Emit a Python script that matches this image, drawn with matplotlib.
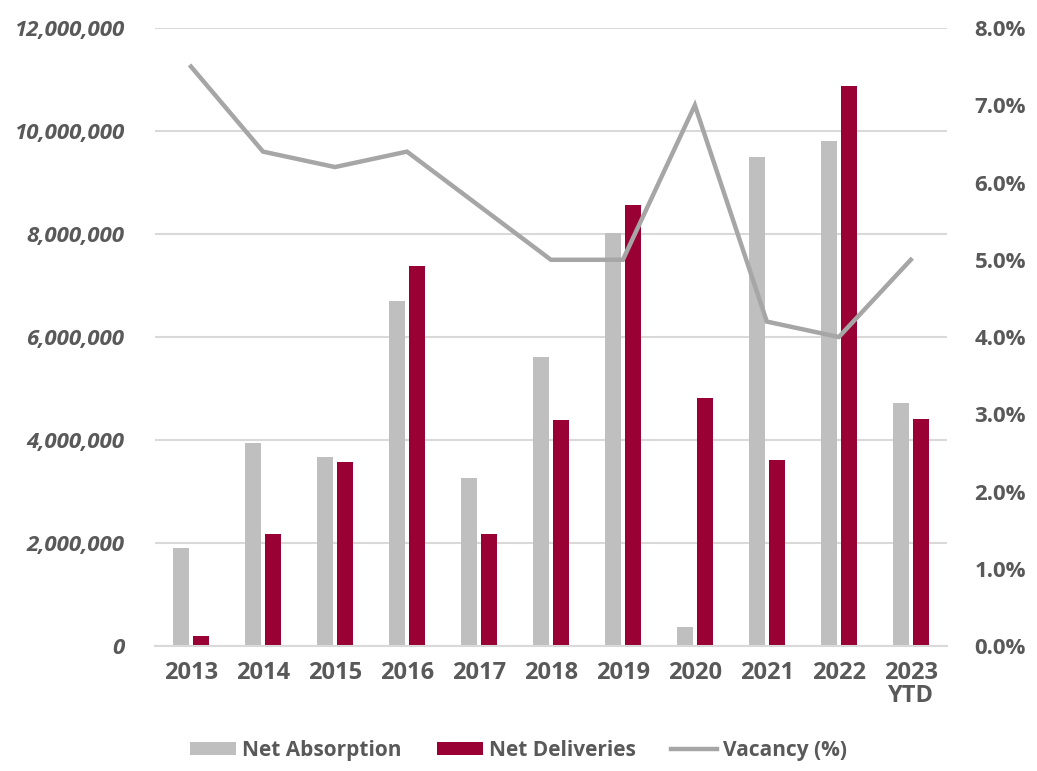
import matplotlib.pyplot as plt
import numpy as np
from matplotlib.ticker import FuncFormatter

years = ['2013', '2014', '2015', '2016', '2017', '2018', '2019', '2020', '2021', '2022', '2023\nYTD']
net_absorption = [1900000, 3940000, 3670000, 6700000, 3260000, 5610000, 8020000, 370000, 9500000, 9810000, 4720000]
net_deliveries = [200000, 2180000, 3570000, 7380000, 2170000, 4390000, 8560000, 4820000, 3610000, 10870000, 4410000]
vacancy = [7.5, 6.4, 6.2, 6.4, 5.7, 5.0, 5.0, 7.0, 4.2, 4.0, 5.0]

plt.rcParams['font.family'] = ['Open Sans', 'DejaVu Sans']
plt.rcParams['font.weight'] = 'bold'
text_color = '#595959'
gray = '#BFBFBF'
red = '#990033'
line_gray = '#A6A6A6'

fig = plt.figure(figsize=(10.37, 7.71), dpi=100)
ax = fig.add_axes([0.1495, 0.162, 0.7635, 0.8017])
ax2 = ax.twinx()

x = np.arange(len(years))
w = 0.22
b1 = ax.bar(x - 0.14, net_absorption, w, color=gray, label='Net Absorption', zorder=2)
b2 = ax.bar(x + 0.14, net_deliveries, w, color=red, label='Net Deliveries', zorder=2)
l1, = ax2.plot(x, vacancy, color=line_gray, linewidth=3.2, label='Vacancy (%)',
               solid_joinstyle='miter')

ax.set_xlim(-0.5, len(years) - 0.5)
ax.set_ylim(0, 12000000)
ax.set_yticks(np.arange(0, 12000001, 2000000))
ax.yaxis.set_major_formatter(FuncFormatter(lambda v, p: f'{int(v):,}'))
ax2.set_ylim(0, 8)
ax2.set_yticks(np.arange(0, 8.1, 1))
ax2.yaxis.set_major_formatter(FuncFormatter(lambda v, p: f'{v:.1f}%'))

ax.grid(axis='y', color='#D9D9D9', linewidth=1.5, zorder=0)
ax.set_axisbelow(True)
for a in (ax, ax2):
    for s in ['top', 'left', 'right']:
        a.spines[s].set_visible(False)
ax2.spines['bottom'].set_visible(False)
ax.spines['bottom'].set_color('#D9D9D9')
ax.spines['bottom'].set_linewidth(1.5)

ax.set_xticks(x)
ax.set_xticklabels(years, fontsize=17, fontweight='bold', color=text_color, linespacing=0.95)
ax.tick_params(axis='x', length=0, pad=11)
ax.tick_params(axis='y', length=0, pad=22, labelsize=16, labelcolor=text_color)
for t in ax.get_yticklabels():
    t.set_fontweight('bold')
    t.set_fontstyle('italic')
ax2.tick_params(axis='y', length=0, pad=20, labelsize=16, labelcolor=text_color)
for t in ax2.get_yticklabels():
    t.set_fontweight('bold')

fig.legend([b1, b2, l1], ['Net Absorption', 'Net Deliveries', 'Vacancy (%)'],
           loc='center', bbox_to_anchor=(0.5, 0.027), ncol=3, frameon=False,
           prop={'size': 15, 'weight': 'bold'}, labelcolor=text_color,
           handlelength=2.2, handleheight=0.55, handletextpad=0.3, columnspacing=1.7)

fig.savefig('out.png', dpi=100)
